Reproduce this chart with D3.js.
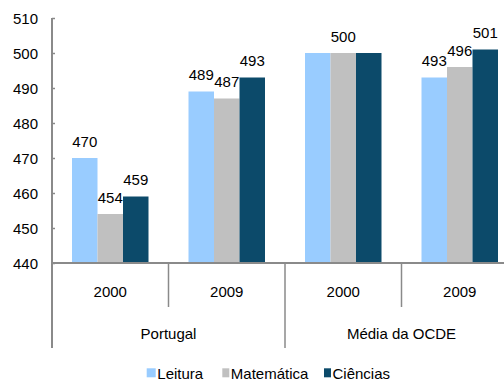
<!DOCTYPE html>
<html>
<head>
<meta charset="utf-8">
<script src="https://cdn.jsdelivr.net/npm/d3@7/dist/d3.min.js"></script>
<style>
  html, body { margin: 0; padding: 0; background: #fff; }
  svg { display: block; }
  text { font-family: "Liberation Sans", Arial, sans-serif; font-size: 15px; fill: #000; }
</style>
</head>
<body>
<script>
// PISA mean scores by domain, Portugal vs. OECD average
const groups = ["Portugal", "Média da OCDE"];
const years = ["2000", "2009"];
const categories = ["Portugal-2000", "Portugal-2009", "OCDE-2000", "OCDE-2009"];
const seriesNames = ["Leitura", "Matemática", "Ciências"];
const leitura    = [470, 489, 500, 493];
const matematica = [454, 487, 500, 496];
const ciencias   = [459, 493, 500, 501];
const yTicks = [440, 450, 460, 470, 480, 490, 500, 510];
// labels shown above each bar (null = no label)
const labelShown = [
  [true, true, true],
  [true, true, true],
  [false, true, false],
  [true, true, true]
];
const colors = ["#99CCFF", "#C0C0C0", "#0C4A6A"];

const W = 504, H = 381;
const svg = d3.select("body").append("svg").attr("width", W).attr("height", H);

const values = [leitura, matematica, ciencias];

const y = d3.scaleLinear().domain([440, 510]).range([263, 18]);
const xPad = 40 / 116.5;
const x = d3.scaleBand().domain(categories).range([52, 518])
  .paddingInner(xPad).paddingOuter(xPad / 2);
const xs = d3.scaleBand().domain(seriesNames).range([0, x.bandwidth()]);

// bars
categories.forEach((c, ci) => {
  const g = svg.append("g").attr("transform", `translate(${x(c)},0)`);
  seriesNames.forEach((s, si) => {
    const v = values[si][ci];
    g.append("rect")
      .attr("x", xs(s)).attr("width", xs.bandwidth())
      .attr("y", y(v)).attr("height", y(440) - y(v))
      .attr("fill", colors[si]);
    if (labelShown[ci][si]) {
      g.append("text")
        .attr("x", xs(s) + xs.bandwidth() / 2)
        .attr("y", y(v) - 11.5)
        .attr("text-anchor", "middle")
        .text(v);
    }
  });
});

// y axis
const yAxis = d3.axisRight(y).tickValues(yTicks).tickSize(3).tickFormat(d3.format("d"));
const ya = svg.append("g").attr("transform", "translate(52,0)").call(yAxis);
ya.select(".domain").remove();
ya.selectAll(".tick line").attr("stroke", "#888").attr("stroke-width", 1.5);
ya.selectAll(".tick text").attr("x", -14).attr("text-anchor", "end")
  .attr("dy", "0.35em").attr("fill", "#000")
  .style("font-size", "15px").style("font-family", "'Liberation Sans', Arial, sans-serif");

const axisColor = "#8a8a8a";
// vertical axis line
svg.append("line").attr("x1", 52).attr("x2", 52).attr("y1", 18).attr("y2", 348)
  .attr("stroke", axisColor).attr("stroke-width", 2);
// horizontal axis line
svg.append("line").attr("x1", 52).attr("x2", 518).attr("y1", 263).attr("y2", 263)
  .attr("stroke", axisColor).attr("stroke-width", 2);

// category separators: short between years, long between groups
const step = x.step();
categories.forEach((c, ci) => {
  if (ci === 0) return;
  const sx = x(c) - x.paddingInner() * step / 2;
  const long = ci % 2 === 0;
  svg.append("line").attr("x1", sx).attr("x2", sx)
    .attr("y1", 263).attr("y2", long ? 348 : 307)
    .attr("stroke", axisColor).attr("stroke-width", 1.5);
});

// year labels
categories.forEach((c, ci) => {
  svg.append("text")
    .attr("x", x(c) + x.bandwidth() / 2).attr("y", 297)
    .attr("text-anchor", "middle")
    .text(years[ci % 2]);
});

// group labels
groups.forEach((gname, gi) => {
  const cx = (x(categories[gi * 2]) + x(categories[gi * 2 + 1]) + x.bandwidth()) / 2;
  svg.append("text")
    .attr("x", cx).attr("y", 338.5)
    .attr("text-anchor", "middle")
    .text(gname);
});

// legend
const legendX = [146.7, 222.3, 324];
const legend = svg.append("g");
seriesNames.forEach((s, si) => {
  legend.append("rect")
    .attr("x", legendX[si]).attr("y", 368.3)
    .attr("width", si === 0 ? 9 : 7).attr("height", 9)
    .attr("fill", colors[si]);
  legend.append("text")
    .attr("x", legendX[si] + (si === 0 ? 10.6 : 8.5)).attr("y", 379.3)
    .text(s);
});
</script>
</body>
</html>
